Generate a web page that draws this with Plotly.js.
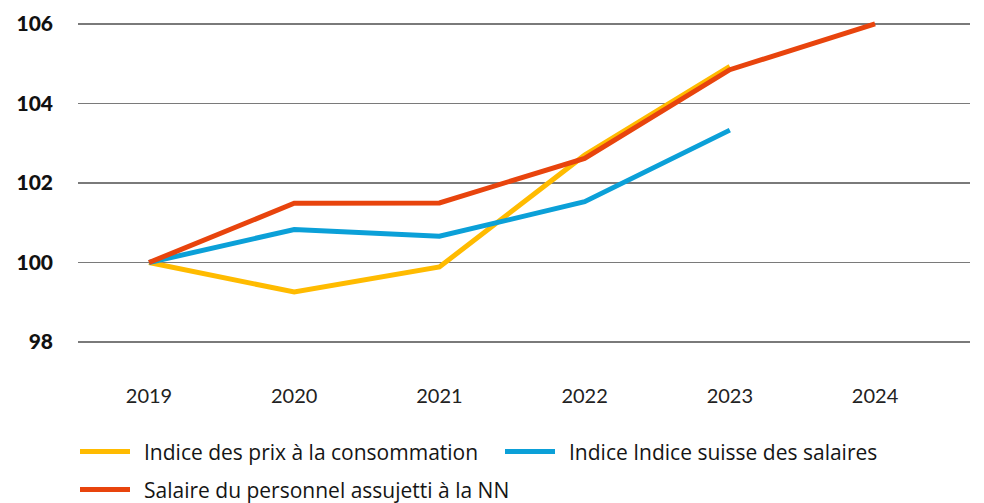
<!DOCTYPE html>
<html>
<head>
<meta charset="utf-8">
<script src="https://cdn.plot.ly/plotly-3.0.1.min.js"></script>
<style>html,body{margin:0;padding:0;background:#fff;}#chart{width:984px;height:503px;}</style>
</head>
<body>
<div id="chart"></div>
<script>
const years = [2019, 2020, 2021, 2022, 2023, 2024];
const seriesNames = [
  "Indice des prix à la consommation",
  "Indice Indice suisse des salaires",
  "Salaire du personnel assujetti à la NN"
];
const cpi = [100, 99.26, 99.89, 102.7, 104.93, null];
const swissWage = [100, 100.83, 100.66, 101.53, 103.33, null];
const nnWage = [100, 101.49, 101.5, 102.62, 104.85, 106.0];
const yTicks = [98, 100, 102, 104, 106];

const colors = ["#FFBB00", "#0BA0D8", "#E8440D"];
const values = [cpi, swissWage, nnWage];

const W = 984, H = 503;
const mL = 78, mR = 14, mT = 11.55, mB = 144.8;
const plotW = W - mL - mR, plotH = H - mT - mB;
const px2x = p => (p - mL) / plotW;
const py2y = p => (H - mB - p) / plotH;

const traces = values.map((v, i) => ({
  x: years, y: v, type: "scatter", mode: "lines", name: seriesNames[i],
  line: {color: colors[i], width: 5}, connectgaps: false, showlegend: false,
  hoverinfo: "x+y"
}));

// custom legend
const legendPos = [
  {lx: 80, ty: 452, tx: 142},
  {lx: 505, ty: 452, tx: 567},
  {lx: 80, ty: 490, tx: 142}
];
const shapes = legendPos.map((p, i) => ({
  type: "line", xref: "paper", yref: "paper",
  x0: px2x(p.lx), x1: px2x(p.lx + 50), y0: py2y(p.ty), y1: py2y(p.ty),
  line: {color: colors[i], width: 5}
}));
const annotations = legendPos.map((p, i) => ({
  xref: "paper", yref: "paper", x: px2x(p.tx), y: py2y(p.ty),
  xanchor: "left", yanchor: "middle", showarrow: false,
  text: seriesNames[i], font: {family: "Open Sans", size: 21, color: "#151515", weight: 500}
}));

const layout = {
  width: W, height: H,
  margin: {l: mL, r: mR, t: mT, b: mB, pad: 0},
  paper_bgcolor: "#fff", plot_bgcolor: "#fff",
  xaxis: {
    range: [2018.511, 2024.654], tickvals: years, ticktext: years.map(String),
    showgrid: false, zeroline: false, showline: false, ticks: "",
    tickfont: {family: "Lato", size: 20, color: "#222"},
    ticklabelstandoff: 24
  },
  yaxis: {
    range: [97.6, 106.3], tickvals: yTicks, ticktext: yTicks.map(String),
    showgrid: true, gridcolor: "#7a7a7a", gridwidth: 1.5,
    zeroline: false, showline: false, ticks: "",
    tickfont: {family: "Lato", size: 21, color: "#111", weight: 900},
    ticklabelstandoff: 24
  },
  shapes: shapes,
  annotations: annotations,
  showlegend: false
};

Plotly.newPlot("chart", traces, layout, {displayModeBar: false, staticPlot: true});
</script>
</body>
</html>
